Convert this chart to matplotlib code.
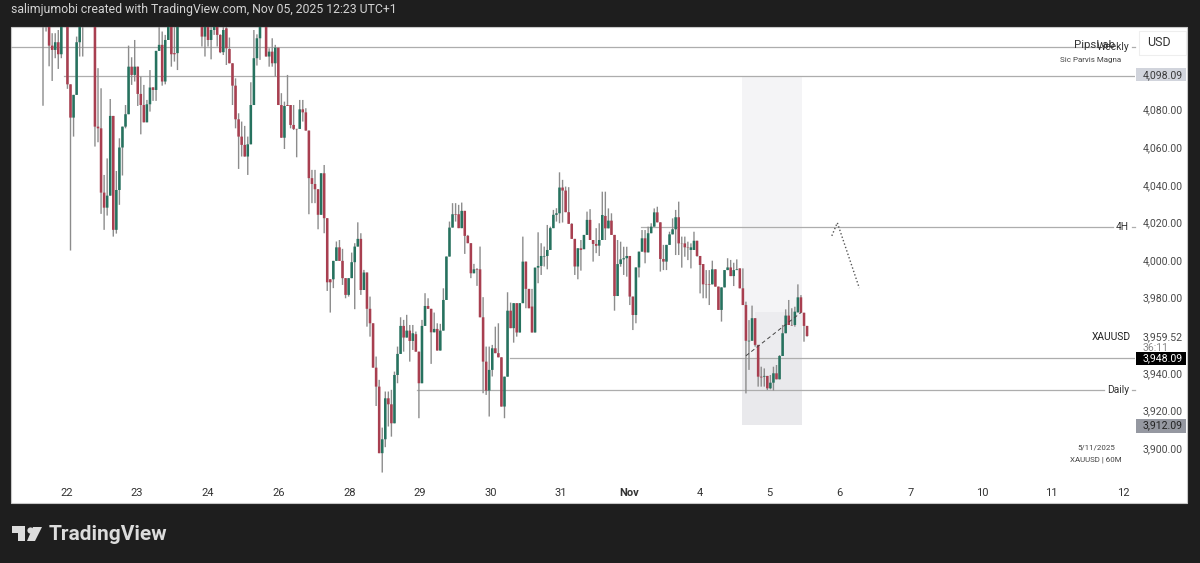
import numpy as np
import matplotlib
matplotlib.use('Agg')
import matplotlib.pyplot as plt
from matplotlib.patches import Rectangle, Polygon

plt.rcParams['font.family'] = ['Roboto', 'DejaVu Sans']

# hourly XAUUSD candles (first ones run above the visible range)
opens = [
    4131,4130,4128,4114,4111.7,4115.8,4109.4,4127,4128,4093.4,
    4075.7,4087.8,4115.8,4127,4128,4131,4129,4128,4070.9,4070,
    4035.8,4027.8,4034.2,4076.6,4016,4037.2,4059.8,4070.9,4077.5,4102.8,
    4098.4,4102.8,4088.3,4082.4,4073.2,4082.8,4091.8,4090.4,4111.2,4114.4,
    4094.9,4117,4128,4110,4110,4128,4131,4129,4128,4131,
    4129,4128,4128,4118.8,4127,4117,4122.3,4127,4119.7,4110.5,
    4123.2,4112.2,4104.6,4092.7,4074.8,4065.6,4061.2,4055,4061.5,4082.4,
    4107.3,4117.9,4128,4128,4108.2,4110.8,4104.6,4112.9,4082.4,4065,
    4082.4,4082.4,4071.8,4069.7,4069.7,4080.1,4078.5,4068.8,4043.5,4040.4,
    4037.6,4024,4046.1,4022.2,3989.7,3989.7,3999.5,4006.7,3999.5,3990.3,
    3981.4,3990.3,3998.8,4007.1,4011.2,3984,3993.3,3974,3966.3,3942.7,
    3932.6,3897.2,3904.6,3926.4,3923.2,3913.1,3938.8,3950,3964.9,3958.7,
    3962.4,3956.9,3960.5,3951.2,3934.4,3964.9,3975.5,3974,3961.5,3963.3,
    3951.8,3962.4,3978.7,4001.8,4017.2,4024.3,4024.3,4016.9,4026.1,4012.8,
    4008.9,3992.9,3995,3995,3969.5,3945.9,3930.5,3941.5,3953,3950.4,
    3948.2,3922,3937.9,3973,3963.7,3977,3961.4,3977,3999.1,3984.6,
    3975.2,3961.4,3995.9,3996.8,4001.8,4002.1,4005.3,4016.9,4024,4024.8,
    4038.5,4036.9,4025.4,4019.2,4011.2,3996.5,4006.2,4005.7,4013.3,4021.3,
    4010.6,4008.5,4007.6,4010.6,4023.4,4016.8,4020.9,4013.3,3980.8,3997.8,
    4000.3,4000.9,4002.1,3980.5,3970.7,3996,4004.4,4011.5,4004,4014.2,
    4017.7,4025.3,4020,4000.5,3999.1,4008,4013.6,4016.3,4022.7,4008.8,
    4008.8,4006.7,4005.3,4005.3,4010.2,4002.1,3997.8,3987,3987,3987,
    3995,3985.8,3973.4,3985.4,3994.6,3996,3991.4,3994.6,3995.5,3984.9,
    3976,3956.7,3957,3969,3954.8,3937.9,3937.9,3938.3,3931.7,3934.7,
    3939.7,3936.5,3948.9,3961,3970.4,3965.4,3965.4,3972.1,3980.1,3971.9,
    3964.9]
closes = [
    4128,4133,4114,4111.7,4115.8,4109.4,4128,4130,4093.4,4075.7,
    4087.8,4115.8,4127,4129,4131,4129,4132,4070.9,4070,4035.8,
    4027.8,4034.2,4076.6,4016,4037.2,4059.8,4070.9,4077.5,4102.8,4098.4,
    4102.8,4088.3,4082.4,4073.2,4082.8,4091.7,4090.4,4111.2,4114.4,4094.9,
    4117,4124,4109.4,4109.4,4127,4131,4129,4132,4131,4129,
    4132,4130,4118.8,4127,4117,4122.3,4124,4119.7,4110.5,4122.3,
    4112.6,4104.6,4092.7,4074.8,4065.6,4061.2,4055,4061.5,4082.4,4107.3,
    4117.9,4124,4131,4108.2,4110.8,4104.6,4112.9,4082.4,4065,4081.9,
    4081.9,4071.8,4069.7,4069.5,4080.1,4078.5,4068.8,4043.5,4040.4,4037.6,
    4024,4046.1,4022.2,3988.1,3988.1,3999.5,4006.7,3999.5,3990.3,3981.4,
    3990.3,3998.8,4007.1,4011.2,3984,3993.3,3974,3966.3,3942.7,3932.6,
    3897.2,3904.6,3926.4,3923.2,3913.1,3938.8,3950,3964.9,3958.7,3962.4,
    3956.9,3961,3951.2,3934.4,3964.9,3975.5,3974,3961.5,3963.3,3951.8,
    3962.4,3978.7,4001.8,4017.2,4024.3,4024,4016.9,4026.1,4012.8,4008.9,
    3992.9,3995,3994.7,3969.5,3945.9,3930.5,3941.5,3953,3950.4,3948.2,
    3922,3937.9,3973,3963.7,3977,3961.4,3977,3999.1,3984.6,3974.3,
    3961.4,3995.9,3996.8,4002.1,4002.1,4005.3,4016.9,4024,4024.8,4038.5,
    4036.9,4025.4,4019.2,4011.2,3996.5,4006.2,4005.3,4013.3,4021.3,4010.6,
    4008.5,4007.5,4010.6,4023.9,4016.8,4020.9,4013.3,3980.8,3997.8,4000.3,
    4000.9,4002.1,3980.5,3970.7,3996,4004.4,4011.5,4004,4014.2,4017.7,
    4025.3,4020,4000.5,3999.1,4008,4013.6,4016.3,4022.7,4008.8,4008.7,
    4006.7,4006.5,4006.7,4010.2,4002.1,3997.3,3987,3986.8,3986.7,3995,
    3985.8,3973.4,3985.4,3994.6,3996,3991.4,3994.6,3995,3984.9,3976,
    3957,3957,3969,3954.8,3937.9,3937.5,3938.3,3931.7,3934.7,3939.7,
    3936.5,3948.9,3961,3970.4,3965.4,3965.2,3972.5,3980.1,3971.9,3964.9,
    3959.5]
highs = [
    4134,4136,4132,4120.6,4120.6,4122.3,4130,4134,4132,4093.4,
    4087.8,4118.8,4130,4132,4134,4135,4134,4132,4102,4091.3,
    4045.2,4054,4085.6,4076.6,4047.3,4064.7,4070.9,4082.4,4114,4107.8,
    4117,4102.8,4097.5,4093.1,4085.1,4101,4091.8,4111.2,4124,4121.5,
    4119.7,4128,4130,4125,4129,4133,4134,4135,4134,4133,
    4134,4133,4131,4130,4130,4125,4128,4130,4120,4124,
    4125,4118.3,4104.6,4096.6,4078,4073.6,4071.3,4065.6,4094.5,4122.3,
    4120,4128,4134,4131,4112.6,4117.9,4114.4,4112.9,4088.7,4084.2,
    4098.4,4082.4,4082.4,4069.7,4085.1,4085.1,4080.7,4068.8,4047.9,4047.9,
    4037.6,4046.1,4050.5,4022.2,3989.7,3999.5,4009.8,4010.6,4005.9,3990.3,
    3990.3,4003.9,4008.9,4020,4014.2,3994.7,3993.3,3980.5,3966.3,3948.6,
    3936.2,3910.8,3930,3930,3930.9,3940.6,3953.9,3969.5,3968.1,3970.8,
    3965.4,3965.4,3961.9,3951.2,3968.1,3982.3,3979.6,3974,3972,3966.3,
    3966,3984.9,4001.8,4020.4,4030.2,4030.2,4029.3,4030.5,4026.1,4013.3,
    4008.9,3997.9,3995.6,4007.1,3980.2,3953.9,3953.9,3954.8,3964.5,3966.3,
    3948.2,3937.9,3982.8,3977.3,3977,3977,3977,4012.4,3999.1,3984.6,
    3984.6,3995.9,4014.7,4008.9,4007.1,4018.6,4017.7,4026.6,4027.5,4046.6,
    4042.6,4039,4038.7,4019.5,4011.2,4006.2,4010.6,4013.3,4025.7,4027,
    4010.6,4016.9,4019.5,4036.3,4036.3,4027.4,4024.8,4013.3,4010.6,4009.7,
    4007,4007,4002.1,3980.5,3996,4004.4,4015.9,4015.9,4017.7,4019.5,
    4027.4,4028.3,4020,4008,4008,4015,4022.1,4026.6,4031,4012.4,
    4012.4,4009.7,4008.8,4015,4010.2,4002.1,3997.8,3994.6,3994.6,3999.6,
    3995,3985.8,3985.4,3994.6,4000.9,4000,3998.5,4000.3,3995.5,3995.5,
    3977.8,3968,3975.7,3969,3954.8,3943.2,3942.3,3938.3,3938.8,3943.2,
    3944.1,3949.4,3965.4,3973.7,3978.7,3974.3,3975.1,3987,3981.3,3971.9,
    3964.9]
lows = [
    4082,4121.5,4103,4095.2,4107.3,4101.6,4107.3,4126,4091,4005,
    4065.6,4087.8,4108.2,4108.2,4126,4127,4126,4060.3,4062.6,4024.5,
    4016,4023.6,4034.2,4012.4,4014,4029.3,4044.9,4070,4077.5,4093.1,
    4094.9,4081.9,4066.8,4073.2,4073.2,4078.9,4084.6,4084.6,4111.2,4092.7,
    4093.4,4117,4102.8,4105.5,4101,4127,4127,4127,4126,4127,
    4127,4126,4113.5,4108.2,4113.5,4106.7,4119.7,4113.5,4110,4109,
    4103.7,4104.6,4082.4,4070,4048.4,4055,4055,4045.2,4061.5,4082.4,
    4103.4,4106.4,4127,4108.2,4102.8,4102.8,4097.5,4082.4,4065,4059,
    4081.9,4070,4069.1,4054.6,4069.7,4073.6,4068.8,4024.3,4030.2,4030.2,
    4016.3,4024,4014.2,3983.5,3972,3985,3999.5,3999.5,3986.7,3979.6,
    3980.5,3990.3,3973.8,4007.1,3981.4,3984,3964.5,3959.2,3942.7,3922.3,
    3897.2,3886.9,3900.4,3911.4,3906,3913.1,3934.4,3950,3951.2,3958.7,
    3945.9,3952.1,3951.2,3915.8,3934.4,3964.9,3974,3944.7,3961.5,3951.8,
    3951.8,3962.4,3978.7,4001.8,4017.2,4020.4,4016.9,4016.9,4003.2,4008.9,
    3990.3,3992.9,3986.2,3969.5,3929.1,3928.2,3916.7,3938,3950.4,3948.2,
    3922,3915.8,3937.9,3963.7,3956,3959.2,3961.4,3977,3974.3,3974.3,
    3961.4,3961.4,3987.6,3992,3996.5,3995,4005.3,4016.9,4020.4,4019.5,
    4019.9,4025.4,4019.2,4011.2,3992,3989.7,3994.3,4005.7,4013.3,4010.6,
    3999.1,4003.6,4002.1,4010.6,4010.6,4016.8,4013.3,3973,3980.8,3996.4,
    3992,3991.1,3976,3962.7,3966.3,3990.7,4004.4,3998.2,4004,4014.2,
    4017.7,4020,3993.8,3994.6,3994.6,4008,4013.6,4002.6,4002.6,3995.9,
    4001.7,3999.9,3995.5,4005.3,4001.7,3982.2,3979.6,3979.6,3976,3987,
    3985.8,3973.4,3967.2,3985.4,3994.6,3991.4,3986.1,3994.6,3984.9,3976,
    3929,3941.5,3957,3953.9,3932.6,3932.6,3932.6,3930.8,3931.2,3930.5,
    3936.5,3936.5,3948.9,3961,3965.4,3964.9,3964.5,3972.1,3971.9,3956.5,
    3959.2]

day_labels = ['22','23','24','26','28','29','30','31','Nov','4','5','6','7','10','11','12']
day_bars = [7.85,30.8,54,77.2,100.5,123.4,146.6,169.5,191.8,214.8,237.8,260.7,284,307.2,330,353.4]
price_ticks = [3900,3920,3940,3959.52,3980,4000,4020,4040,4060,4080]

# drawn levels: price, first bar, last bar
weekly = (4113.3, -11, 345)
upper = (4098.09, 7, 358)
h4 = (4017.6, 195.7, 350)
mid = (3948.09, 152.8, 358)
daily = (3930.6, 122.4, 347)
# shaded box
box_bars = (228.8, 248.2)
box_prices = (3912.09, 4098.09)
box_inner = (3948.09, 3972.3)
trend_bars = [230, 248]
trend_prices = [3949, 3972]
arrow_bars = [258.1, 259.9, 267.1]
arrow_prices = [4012.8, 4019.8, 3985]

W, H = 1200, 563
GREEN = '#26725f'
RED = '#a83f50'
WICK = '#8c8c8c'
LEVEL = '#adadad'


def fx(px):
    return px / W


def fy(py):
    return 1 - py / H


def ftext(px, py, s, **kw):
    kw.setdefault('va', 'center')
    return fig.text(fx(px), fy(py), s, **kw)


def frect(x0, y0, x1, y1, **kw):
    fig.patches.append(Rectangle((fx(x0), fy(y1)), fx(x1 - x0), (y1 - y0) / H,
                                 transform=fig.transFigure, **kw))


fig = plt.figure(figsize=(12, 5.63), dpi=100, facecolor='#1e1e1e')
frect(11, 27, 1187, 503, facecolor='white', edgecolor='#c8c8c8', lw=0.8, zorder=-1)

ax = fig.add_axes([fx(11), fy(478), fx(1135 - 11), (478 - 27) / H])
ax.set_zorder(1)
ax.patch.set_alpha(0)
ax.set_xlim(-10.47, 357.3)
ax.set_ylim(3884, 4123.9)
for s in ax.spines.values():
    s.set_visible(False)

o = np.array(opens)
c = np.array(closes)
x = np.arange(len(o))
up = c >= o
colors = np.where(up, GREEN, RED)

ax.add_patch(Rectangle((box_bars[0], box_prices[0]), box_bars[1] - box_bars[0],
                       box_prices[1] - box_prices[0], color='#f4f4f6', lw=0, zorder=1))
ax.add_patch(Rectangle((box_bars[0], box_prices[0]), box_bars[1] - box_bars[0],
                       box_inner[0] - box_prices[0], color='#e9e9ec', lw=0, zorder=1))
ax.add_patch(Rectangle((233, box_inner[0]), box_bars[1] - 233,
                       box_inner[1] - box_inner[0], color='#ececef', lw=0, zorder=1))

for price, b0, b1 in [weekly, upper, h4, mid, daily]:
    ax.plot([b0, b1], [price, price], color=LEVEL, lw=0.9, zorder=2)

wicks = ax.vlines(x, lows, highs, color=WICK, lw=1.0, zorder=3)
wicks.set_snap(False)
bodies = ax.bar(x, np.abs(c - o), bottom=np.minimum(o, c), width=0.84, color=colors, lw=0, zorder=4)
for b in bodies:
    b.set_snap(False)

ax.plot(trend_bars, trend_prices, color='#444444', lw=0.7, ls=(0, (4, 3)), zorder=5)
ax.plot(arrow_bars, arrow_prices, color='#555555', lw=1, ls=(0, (1, 1.6)), zorder=5)

ax.set_xticks(day_bars)
ax.set_xticklabels(day_labels, fontsize=8, color='#333333')
ax.get_xticklabels()[8].set_fontweight('bold')
ax.tick_params(axis='x', length=0, pad=7)
ax.yaxis.tick_right()
ax.set_yticks(price_ticks)
ax.set_yticklabels([f'{p:,.2f}' for p in price_ticks], fontsize=7.6, color='#4a4a4a')
ax.tick_params(axis='y', length=0, pad=5.5)

# header
ftext(11, 9.5, 'salimjumobi created with TradingView.com, Nov 05, 2025 12:23 UTC+1',
      color='#d4d4d4', fontsize=8.85)

# line labels
ftext(1074, 45, 'PipsLab', color='#333333', fontsize=8.2)
ftext(1129, 47, 'Weekly', color='#333333', fontsize=7.4, ha='right')
ftext(1091, 60, 'Sic Parvis Magna', color='#444444', fontsize=5.8, ha='center')
ftext(1129, 227, '4H', color='#333333', fontsize=7.4, ha='right')
ftext(1129, 390, 'Daily', color='#333333', fontsize=7.4, ha='right')
for py in [47, 227, 390]:
    fig.add_artist(plt.Line2D([fx(1132), fx(1135)], [fy(py), fy(py)], color=LEVEL, lw=0.9))
ftext(1131, 337, 'XAUUSD', color='#222222', fontsize=7.4, ha='right')
ftext(1096, 447, '5/11/2025', color='#444444', fontsize=5.7, ha='center')
ftext(1096, 460, 'XAUUSD | 60M', color='#444444', fontsize=5.7, ha='center')

# price axis badges
frect(1139, 31, 1186, 55, facecolor='white', edgecolor='#eeeeee', lw=0.8, zorder=5)
ftext(1159, 43, 'USD', color='#333333', fontsize=9, ha='center', zorder=6)
frect(1136, 68, 1186, 81, facecolor='#d1d4dc', lw=0, zorder=5)
ftext(1143, 75, '4,098.09', color='#3a3a3a', fontsize=7.6, zorder=6)
ftext(1143, 348, '36:11', color='#888888', fontsize=7.6)
frect(1136, 352, 1186, 365, facecolor='black', lw=0, zorder=5)
ftext(1143, 358, '3,948.09', color='white', fontsize=7.6, zorder=6)
frect(1136, 419, 1186, 433, facecolor='#9598a1', lw=0, zorder=5)
ftext(1143, 425.5, '3,912.09', color='#222222', fontsize=7.6, zorder=6)

# logo
logo = '#dcdcdc'
fig.patches.append(Polygon([(fx(a), fy(b)) for a, b in
                            [(12, 526), (25, 526), (25, 541), (18, 541), (18, 533), (12, 533)]],
                           transform=fig.transFigure, color=logo, lw=0))
fig.patches.append(Polygon([(fx(a), fy(b)) for a, b in
                            [(33, 527), (42, 527), (35, 541), (27, 541)]],
                           transform=fig.transFigure, color=logo, lw=0))
fig.add_artist(plt.Line2D([fx(29.5)], [fy(529.5)], marker='o', ms=4.5, color=logo, mew=0))
ftext(49, 534, 'TradingView', color=logo, fontsize=15, fontweight='bold')

fig.savefig('out.png', dpi=100, facecolor=fig.get_facecolor())
